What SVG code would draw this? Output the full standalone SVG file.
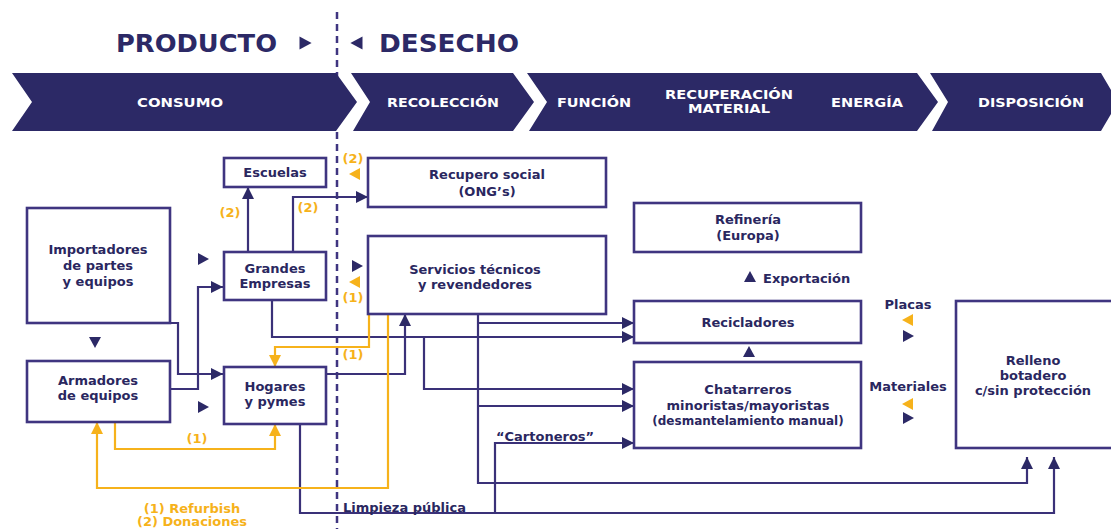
<svg xmlns="http://www.w3.org/2000/svg" width="1111" height="529" viewBox="0 0 1111 529">
<style>
.t{font-family:"DejaVu Sans","Liberation Sans",sans-serif;font-weight:bold;fill:#2a275f;font-size:13px;text-anchor:middle;dominant-baseline:central}
.ttl{font-family:"DejaVu Sans","Liberation Sans",sans-serif;font-weight:bold;fill:#2c2966;font-size:24px;dominant-baseline:central}
.bn{font-family:"DejaVu Sans","Liberation Sans",sans-serif;font-weight:bold;fill:#ffffff;font-size:12.5px;text-anchor:middle;dominant-baseline:central}
.o{font-family:"DejaVu Sans","Liberation Sans",sans-serif;font-weight:bold;fill:#f6b21b;font-size:13px;text-anchor:middle;dominant-baseline:central}
.box{fill:#ffffff;stroke:#3f3580;stroke-width:2.6}
.ln{fill:none;stroke:#3a3178;stroke-width:2.2;marker-end:url(#ah)}
.ol{fill:none;stroke:#f6b21b;stroke-width:2.2;marker-end:url(#ao)}
.nv{fill:#2c2966}
.or{fill:#f6b21b}
</style>
<defs>
<marker id="ah" viewBox="0 0 12 12" refX="12" refY="6" markerWidth="12" markerHeight="12" markerUnits="userSpaceOnUse" orient="auto"><path d="M0,0 L12,6 L0,12 z" fill="#2c2966"/></marker>
<marker id="ao" viewBox="0 0 12 12" refX="12" refY="6" markerWidth="12" markerHeight="12" markerUnits="userSpaceOnUse" orient="auto"><path d="M0,0 L12,6 L0,12 z" fill="#f6b21b"/></marker>
<path id="tri" d="M-5,-6 L6,0 L-5,6 z"/>
</defs>
<rect width="1111" height="529" fill="#ffffff"/>
<line x1="337" y1="12" x2="337" y2="529" stroke="#3f3580" stroke-width="2.5" stroke-dasharray="7 5"/>
<g id="header">
<text class="ttl" x="116" y="44" textLength="161" lengthAdjust="spacingAndGlyphs">PRODUCTO</text>
<use href="#tri" class="nv" transform="translate(305,43) scale(1.1)"/>
<use href="#tri" class="nv" transform="translate(357,43) rotate(180) scale(1.1)"/>
<text class="ttl" x="379" y="44" textLength="140" lengthAdjust="spacingAndGlyphs">DESECHO</text>
</g>
<g id="banner">
<polygon class="nv" points="12,73 336,73 357,102 336,131 12,131 32,102"/>
<polygon class="nv" points="351,73 513,73 534,102 513,131 353,131 370,102"/>
<polygon class="nv" points="527,73 917,73 938,102 917,131 529,131 547,102"/>
<polygon class="nv" points="930,73 1101,73 1118,102 1101,131 932,131 948,102"/>
<text class="bn" x="180" y="102" textLength="86" lengthAdjust="spacingAndGlyphs">CONSUMO</text>
<text class="bn" x="443" y="102" textLength="112" lengthAdjust="spacingAndGlyphs">RECOLECCIÓN</text>
<text class="bn" x="594" y="102" textLength="74" lengthAdjust="spacingAndGlyphs">FUNCIÓN</text>
<text class="bn" x="729" y="94" textLength="128" lengthAdjust="spacingAndGlyphs">RECUPERACIÓN</text>
<text class="bn" x="729" y="108" textLength="82" lengthAdjust="spacingAndGlyphs">MATERIAL</text>
<text class="bn" x="867" y="102" textLength="72" lengthAdjust="spacingAndGlyphs">ENERGÍA</text>
<text class="bn" x="1031" y="102" textLength="106" lengthAdjust="spacingAndGlyphs">DISPOSICIÓN</text>
</g>
<g id="connectors">
<path class="ln" d="M248,252 V187"/>
<path class="ln" d="M293,252 V197 H368"/>
<path class="ln" d="M170,323 H178 V374 H223"/>
<path class="ln" d="M171,389 H198 V287 H223"/>
<path class="ln" d="M272,300 V337 H634"/>
<path class="ln" d="M424,337 V389 H634"/>
<path class="ln" d="M326,374 H405 V314"/>
<path class="ln" d="M478,314 V483 H1027 V457"/>
<path class="ln" d="M478,323 H634"/>
<path class="ln" d="M478,406 H634"/>
<path class="ln" d="M300,424 V513 H1054 V457"/>
<path class="ln" d="M495,513 V443 H634"/>
<path class="ol" d="M369,314 V347 H275 V367"/>
<path class="ol" d="M388,314 V488 H97 V422"/>
<path class="ol" d="M115,422 V449 H275 V424"/>
</g>
<g id="escuelas"><rect class="box" x="224" y="158" width="102" height="29"/><text class="t" x="275" y="172">Escuelas</text></g>
<g id="importadores"><rect class="box" x="27" y="208" width="143" height="115"/><text class="t" x="98" y="249">Importadores</text><text class="t" x="98" y="265">de partes</text><text class="t" x="98" y="281">y equipos</text></g>
<g id="grandes"><rect class="box" x="224" y="252" width="102" height="48"/><text class="t" x="275" y="268">Grandes</text><text class="t" x="275" y="283">Empresas</text></g>
<g id="armadores"><rect class="box" x="27" y="361" width="143" height="61"/><text class="t" x="98" y="380">Armadores</text><text class="t" x="98" y="395">de equipos</text></g>
<g id="hogares"><rect class="box" x="224" y="367" width="102" height="57"/><text class="t" x="275" y="386">Hogares</text><text class="t" x="275" y="401">y pymes</text></g>
<g id="recupero"><rect class="box" x="368" y="158" width="238" height="49"/><text class="t" x="487" y="174">Recupero social</text><text class="t" x="487" y="191">(ONG’s)</text></g>
<g id="servicios"><rect class="box" x="368" y="236" width="238" height="78"/><text class="t" x="475" y="269">Servicios técnicos</text><text class="t" x="475" y="284">y revendedores</text></g>
<g id="refineria"><rect class="box" x="634" y="203" width="227" height="49"/><text class="t" x="748" y="219">Refinería</text><text class="t" x="748" y="235">(Europa)</text></g>
<g id="recicladores"><rect class="box" x="634" y="301" width="227" height="42"/><text class="t" x="748" y="322">Recicladores</text></g>
<g id="chatarreros"><rect class="box" x="634" y="362" width="227" height="86"/><text class="t" x="748" y="389">Chatarreros</text><text class="t" x="748" y="405">minoristas/mayoristas</text><text class="t" x="748" y="421" style="font-size:12px">(desmantelamiento manual)</text></g>
<g id="relleno"><rect class="box" x="956" y="301" width="160" height="147"/><text class="t" x="1033" y="360">Relleno</text><text class="t" x="1033" y="375">botadero</text><text class="t" x="1033" y="390">c/sin protección</text></g>
<g id="labels">
<use href="#tri" class="nv" transform="translate(203,259)"/>
<use href="#tri" class="nv" transform="translate(203,407)"/>
<use href="#tri" class="nv" transform="translate(95,342) rotate(90)"/>
<use href="#tri" class="nv" transform="translate(357,266)"/>
<use href="#tri" class="or" transform="translate(355,174) rotate(180)"/>
<use href="#tri" class="or" transform="translate(355,282) rotate(180)"/>
<use href="#tri" class="nv" transform="translate(749,352) rotate(-90)"/>
<use href="#tri" class="nv" transform="translate(750,277) rotate(-90)"/>
<use href="#tri" class="or" transform="translate(908,320) rotate(180)"/>
<use href="#tri" class="nv" transform="translate(908,336)"/>
<use href="#tri" class="or" transform="translate(908,404) rotate(180)"/>
<use href="#tri" class="nv" transform="translate(908,418)"/>
<text class="t" x="763" y="278" style="text-anchor:start">Exportación</text>
<text class="t" x="908" y="304">Placas</text>
<text class="t" x="908" y="386">Materiales</text>
<text class="t" x="496" y="436" style="text-anchor:start">“Cartoneros”</text>
<text class="t" x="343" y="507" style="text-anchor:start">Limpieza pública</text>
<text class="o" x="230" y="212">(2)</text>
<text class="o" x="308" y="207">(2)</text>
<text class="o" x="353" y="158">(2)</text>
<text class="o" x="353" y="297">(1)</text>
<text class="o" x="353" y="354">(1)</text>
<text class="o" x="197" y="438">(1)</text>
<text class="o" x="192" y="508">(1) Refurbish</text>
<text class="o" x="192" y="521">(2) Donaciones</text>
</g>
</svg>
